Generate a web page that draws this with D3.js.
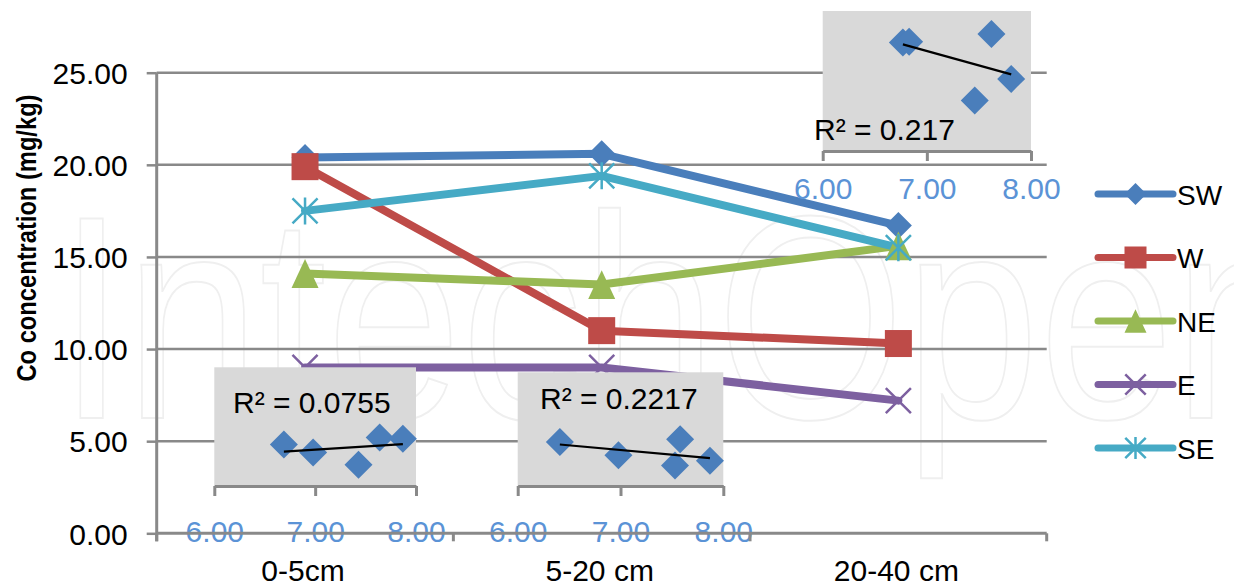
<!DOCTYPE html>
<html>
<head>
<meta charset="utf-8">
<script src="https://cdn.jsdelivr.net/npm/d3@7/dist/d3.min.js"></script>
<style>
  html, body { margin: 0; padding: 0; background: #fff; }
  svg { display: block; }
  text { font-family: "Liberation Sans", Arial, sans-serif; }
</style>
</head>
<body>
<svg id="chart" width="1234" height="587"></svg>
<script>
// ---------------- data ----------------
const categories = ["0-5cm", "5-20 cm", "20-40 cm"];
const seriesNames = ["SW", "W", "NE", "E", "SE"];
const valuesSW = [20.4, 20.6, 16.7];
const valuesW  = [19.9, 11.0, 10.3];
const valuesNE = [14.1, 13.5, 15.6];
const valuesE  = [9.0, 9.0, 7.2];
const valuesSE = [17.5, 19.4, 15.5];
const yTicks = [0, 5, 10, 15, 20, 25];
const yTitle = "Co concentration (mg/kg)";
const watermark = "IntechOpen";

// inset scatter plots (pH vs Co) with linear trend lines
const insetTicks = [6, 7, 8];
const inset1X = [6.69, 6.98, 7.43, 7.64, 7.87];
const inset1Y = [17.5, 14.1, 9.0, 20.4, 19.9];
const inset1Label = "R² = 0.0755";
const inset2X = [6.41, 6.98, 7.53, 7.58, 7.87];
const inset2Y = [19.4, 13.5, 9.0, 20.6, 11.1];
const inset2Label = "R² = 0.2217";
const inset3X = [6.77, 6.83, 7.62, 7.81, 7.46];
const inset3Y = [15.5, 15.6, 16.7, 10.3, 7.2];
const inset3Label = "R² = 0.217";

// ---------------- layout ----------------
const svg = d3.select("#chart");
const plotL = 156.7, plotR = 1046.7, plotT = 72.7, plotB = 533.3;
const gridColor = "#898989";
const font = "'Liberation Sans', Arial, sans-serif";

const x = d3.scaleBand().domain(categories).range([plotL, plotR]);
const cx = c => x(c) + x.bandwidth() / 2;
const y = d3.scaleLinear().domain([0, 25]).range([plotB, plotT]);

const colors = {SW: "#4a7ebb", W: "#be4b48", NE: "#98b954", E: "#7d60a0", SE: "#46aac5"};
const seriesValues = {SW: valuesSW, W: valuesW, NE: valuesNE, E: valuesE, SE: valuesSE};
const series = seriesNames.map(n => ({name: n, values: seriesValues[n], color: colors[n]}));

// watermark (faint outline)
svg.append("text")
  .attr("x", 58).attr("y", 418)
  .attr("font-family", "Lato, 'Open Sans', sans-serif")
  .attr("font-weight", 300)
  .attr("font-size", 290)
  .attr("textLength", 1250)
  .attr("lengthAdjust", "spacingAndGlyphs")
  .attr("fill", "none")
  .attr("stroke", "#efefef")
  .attr("stroke-width", 2)
  .text(watermark);

// gridlines
svg.append("g").selectAll("line")
  .data(yTicks.filter(d => d > 0))
  .join("line")
  .attr("x1", plotL).attr("x2", plotR)
  .attr("y1", d => y(d)).attr("y2", d => y(d))
  .attr("stroke", gridColor).attr("stroke-width", 2.5);

// marker drawing
function marker(g, name, color, s) {
  const r = s / 2;
  if (name === "SW") {
    g.append("path").attr("d", `M0,${-r}L${r},0L0,${r}L${-r},0Z`).attr("fill", color);
  } else if (name === "W") {
    g.append("rect").attr("x", -r).attr("y", -r).attr("width", s).attr("height", s).attr("fill", color);
  } else if (name === "NE") {
    const h = s * 1.07 / 2;
    g.append("path").attr("d", `M0,${-h}L${r},${h}L${-r},${h}Z`).attr("fill", color);
  } else if (name === "E") {
    const q = r * 0.93;
    g.append("path").attr("d", `M${-q},${-q}L${q},${q}M${-q},${q}L${q},${-q}`)
      .attr("stroke", color).attr("stroke-width", 2.5).attr("fill", "none");
  } else if (name === "SE") {
    const q = r * 0.93;
    g.append("path").attr("d", `M${-q},${-q}L${q},${q}M${-q},${q}L${q},${-q}M0,${-r}L0,${r}`)
      .attr("stroke", color).attr("stroke-width", 2.5).attr("fill", "none");
  }
}

// series lines
const line = d3.line().x((d, i) => cx(categories[i])).y(d => y(d));
const gSeries = svg.append("g");
series.forEach(s => {
  gSeries.append("path")
    .attr("d", line(s.values))
    .attr("fill", "none")
    .attr("stroke", s.color)
    .attr("stroke-width", 8)
    .attr("stroke-linejoin", "round")
    .attr("stroke-linecap", "round");
});
series.forEach(s => {
  s.values.forEach((v, i) => {
    const g = gSeries.append("g").attr("transform", `translate(${cx(categories[i])},${y(v)})`);
    marker(g, s.name, s.color, 27);
  });
});

// insets
const insets = [
  {xs: inset1X, ys: inset1Y, label: inset1Label, x0: 214.3, x1: 416, top: 367.3, bottom: 486, yMax: 50,
   labelX: 233, labelY: 413, tickLabelY: 542},
  {xs: inset2X, ys: inset2Y, label: inset2Label, x0: 517.7, x1: 723.3, top: 372.3, bottom: 486, yMax: 50,
   labelX: 540, labelY: 409, tickLabelY: 542},
  {xs: inset3X, ys: inset3Y, label: inset3Label, x0: 822.7, x1: 1031, top: 11, bottom: 151, yMax: 20,
   labelX: 814, labelY: 140, tickLabelY: 199}
];

insets.forEach(ins => {
  const g = svg.append("g");
  const ix = d3.scaleLinear().domain([6, 8]).range([ins.x0, ins.x1]);
  const iy = d3.scaleLinear().domain([0, ins.yMax]).range([ins.bottom, ins.top]);
  g.append("rect")
    .attr("x", ins.x0).attr("y", ins.top)
    .attr("width", ins.x1 - ins.x0).attr("height", ins.bottom - ins.top)
    .attr("fill", "#d9d9d9");
  g.append("text")
    .attr("x", ins.labelX).attr("y", ins.labelY)
    .attr("font-size", 30).attr("fill", "#000")
    .text(ins.label);
  // x axis of inset
  const ax = g.append("g").attr("transform", `translate(0,${ins.bottom})`)
    .call(d3.axisBottom(ix).tickValues(insetTicks).tickSize(10).tickSizeOuter(0).tickFormat(d3.format(".2f")));
  ax.select(".domain").attr("stroke", gridColor).attr("stroke-width", 3);
  ax.selectAll(".tick line").attr("stroke", gridColor).attr("stroke-width", 3);
  ax.selectAll(".tick text")
    .attr("font-family", font).attr("font-size", 30).attr("fill", "#5b93d6")
    .attr("y", ins.tickLabelY - ins.bottom).attr("dy", 0);
  // points
  ins.xs.forEach((v, i) => {
    const r = 14;
    g.append("path")
      .attr("transform", `translate(${ix(v)},${iy(ins.ys[i])})`)
      .attr("d", `M0,${-r}L${r},0L0,${r}L${-r},0Z`)
      .attr("fill", "#4a7ebb");
  });
  // linear trend line
  const mx = d3.mean(ins.xs), my = d3.mean(ins.ys);
  const sxy = d3.sum(ins.xs.map((v, i) => (v - mx) * (ins.ys[i] - my)));
  const sxx = d3.sum(ins.xs.map(v => (v - mx) * (v - mx)));
  const slope = sxy / sxx, icpt = my - slope * mx;
  const [xa, xb] = d3.extent(ins.xs);
  g.append("line")
    .attr("x1", ix(xa)).attr("y1", iy(icpt + slope * xa))
    .attr("x2", ix(xb)).attr("y2", iy(icpt + slope * xb))
    .attr("stroke", "#000").attr("stroke-width", 2.2);
});

// y axis
const yAxis = svg.append("g").attr("transform", `translate(${plotL},0)`)
  .call(d3.axisLeft(y).tickValues(yTicks).tickSize(10).tickSizeOuter(0).tickFormat(d3.format(".2f")));
yAxis.select(".domain").remove();
yAxis.selectAll(".tick line").attr("stroke", gridColor).attr("stroke-width", 2.5);
yAxis.selectAll(".tick text")
  .attr("font-family", font).attr("font-size", 30).attr("fill", "#000")
  .attr("x", -29).attr("dy", "0.36em");
svg.append("line")
  .attr("x1", plotL).attr("x2", plotL).attr("y1", plotT).attr("y2", plotB + 8)
  .attr("stroke", gridColor).attr("stroke-width", 3);

// category axis
const boundaries = categories.map(c => x(c)).concat([plotR]);
svg.append("g").selectAll("line").data(boundaries).join("line")
  .attr("x1", d => d).attr("x2", d => d).attr("y1", plotB).attr("y2", plotB + 8)
  .attr("stroke", gridColor).attr("stroke-width", 3);
svg.append("line")
  .attr("x1", plotL).attr("x2", plotR).attr("y1", plotB).attr("y2", plotB)
  .attr("stroke", gridColor).attr("stroke-width", 3);
svg.append("g").selectAll("text").data(categories).join("text")
  .attr("x", d => cx(d) - 2).attr("y", 581)
  .attr("text-anchor", "middle")
  .attr("font-size", 30).attr("fill", "#000")
  .text(d => d);

// y title
svg.append("text")
  .attr("transform", "translate(36,238) rotate(-90)")
  .attr("text-anchor", "middle")
  .attr("font-size", 28).attr("font-weight", "bold").attr("fill", "#000")
  .attr("textLength", 287).attr("lengthAdjust", "spacingAndGlyphs")
  .text(yTitle);

// legend
const legend = svg.append("g");
series.forEach((s, i) => {
  const ly = 194 + i * 63.5;
  legend.append("line")
    .attr("x1", 1098).attr("x2", 1173).attr("y1", ly).attr("y2", ly)
    .attr("stroke", s.color).attr("stroke-width", 7).attr("stroke-linecap", "round");
  const g = legend.append("g").attr("transform", `translate(1135.5,${ly})`);
  marker(g, s.name, s.color, 22);
  legend.append("text")
    .attr("x", 1177).attr("y", ly + 10.5)
    .attr("font-size", 28).attr("fill", "#000")
    .text(s.name);
});
</script>
</body>
</html>
